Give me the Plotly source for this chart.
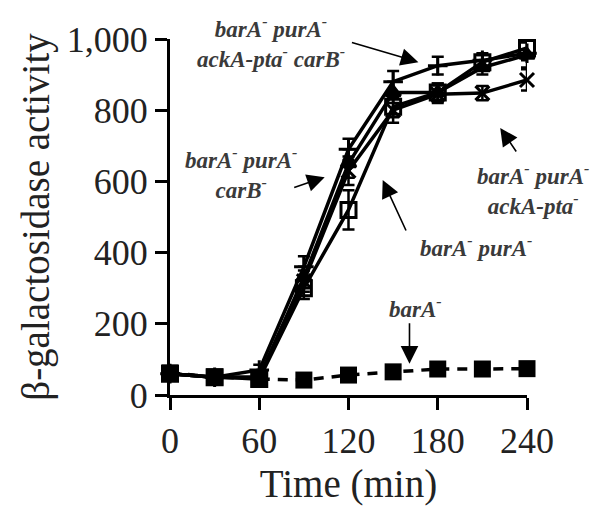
import plotly.graph_objects as go

time_min = [0, 30, 60, 90, 120, 150, 180, 210, 240]

barA = [62, 51, 45, 42, 56, 65, 73, 73, 74]
barA_err = [8, 6, 6, 6, 6, 6, 6, 6, 6]

barA_purA = [60, 50, 45, 300, 520, 810, 850, 935, 975]
barA_purA_err = [8, 8, 10, 30, 55, 30, 25, 20, 15]

barA_purA_carB = [60, 50, 50, 330, 650, 850, 850, 920, 955]
barA_purA_carB_err = [8, 8, 10, 30, 40, 30, 25, 20, 15]

barA_purA_ackA = [60, 50, 50, 320, 630, 800, 845, 848, 885]
barA_purA_ackA_err = [8, 8, 10, 30, 40, 35, 25, 20, 30]

barA_purA_ackA_carB = [60, 50, 70, 360, 690, 880, 925, 940, 960]
barA_purA_ackA_carB_err = [8, 8, 15, 30, 30, 30, 25, 20, 40]

x_ticks = [0, 60, 120, 180, 240]
y_ticks = [0, 200, 400, 600, 800, 1000]

FONT = "Liberation Serif, serif"

fig = go.Figure()

def add_series(y, err, symbol, dash="solid", size=15, lw=3.5):
    fig.add_trace(go.Scatter(
        x=time_min, y=y, mode="lines+markers",
        line=dict(color="black", width=lw, dash=dash),
        marker=dict(symbol=symbol, size=size, color="black",
                    line=dict(color="black", width=3)),
        error_y=dict(type="data", array=err, color="black", thickness=2.5, width=6),
        cliponaxis=False, showlegend=False))

add_series(barA_purA_ackA, barA_purA_ackA_err, "x-thin", size=14)
add_series(barA_purA_carB, barA_purA_carB_err, "triangle-up", size=13)
add_series(barA_purA_ackA_carB, barA_purA_ackA_carB_err, "cross-thin", size=14)
add_series(barA_purA, barA_purA_err, "square-open", size=15)
fig.add_trace(go.Scatter(
    x=time_min, y=barA, mode="lines+markers",
    line=dict(color="black", width=3.5, dash="10px,8px"),
    marker=dict(symbol="square", size=17, color="black"),
    error_y=dict(type="data", array=barA_err, color="black", thickness=2.5, width=6),
    cliponaxis=False, showlegend=False))

ann_font = dict(family=FONT, size=23, color="#3a3a3a")
labels = [
    # text, text x, text y, head x, head y, ax, ay
    ("<b><i>barA<sup>-</sup> purA<sup>-</sup><br>ackA-pta<sup>-</sup> carB<sup>-</sup></i></b>", 68, 990, 167, 935, -68, -20),
    ("<b><i>barA<sup>-</sup> purA<sup>-</sup><br>carB<sup>-</sup></i></b>", 48, 622, 104, 612, -32, 11),
    ("<b><i>barA<sup>-</sup> purA<sup>-</sup><br>ackA-pta<sup>-</sup></i></b>", 244, 578, 222, 750, 17, 25),
    ("<b><i>barA<sup>-</sup> purA<sup>-</sup></i></b>", 206, 418, 143, 604, 24, 52),
    ("<b><i>barA<sup>-</sup></i></b>", 165, 245, 161, 88, 0, -42),
]
for text, tx, ty, hx, hy, ax, ay in labels:
    fig.add_annotation(x=tx / 240, y=ty / 1000, xref="paper", yref="paper", text=text,
                       xanchor="center", yanchor="middle",
                       showarrow=False, font=ann_font, align="center")
    fig.add_annotation(x=hx, y=hy, xref="x", yref="y", text="", showarrow=True,
                       ax=ax, ay=ay, arrowhead=2, arrowsize=2.2, arrowwidth=1.6,
                       arrowcolor="black")

# the page body adds an 8px offset; compensate so the plot area lands where it should
fig.update_layout(
    width=592, height=498,
    margin=dict(l=162, r=73, t=31, b=111),
    paper_bgcolor="white", plot_bgcolor="white",
    font=dict(family=FONT, color="#222222"),
)
fig.update_xaxes(
    range=[0, 240], tickvals=x_ticks, ticks="outside", ticklen=12, tickwidth=3,
    tickcolor="black", showline=True, linewidth=3, linecolor="black", automargin=False,
    showgrid=False, zeroline=False, tickfont=dict(size=36, family=FONT),
    title=dict(text="Time (min)", font=dict(size=39, family=FONT), standoff=16),
)
fig.update_yaxes(
    range=[0, 1000], tickvals=y_ticks, tickformat=",", ticks="outside", ticklen=12,
    tickwidth=3, tickcolor="black", showline=True, linewidth=3, linecolor="black",
    automargin=False, showgrid=False, zeroline=False, tickfont=dict(size=36, family=FONT),
    title=dict(text="β-galactosidase activity", font=dict(size=39, family=FONT), standoff=6),
)

fig.write_html("out.html")
